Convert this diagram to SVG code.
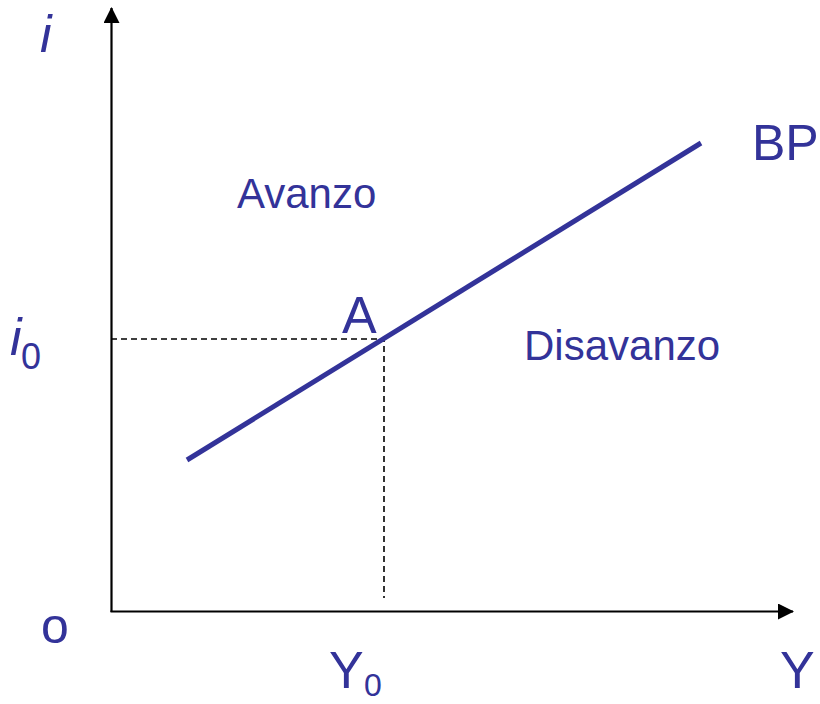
<svg xmlns="http://www.w3.org/2000/svg" width="820" height="704" viewBox="0 0 820 704">
<style>
.t{font-family:"Liberation Sans",Arial,sans-serif;fill:#333399}
.ax{stroke:#000;stroke-width:2.2;fill:none}
.dash{stroke:#000;stroke-width:1.6;stroke-dasharray:6 4;fill:none}
</style>
<defs>
<marker id="arr" markerWidth="16" markerHeight="16" refX="15" refY="8" orient="auto" markerUnits="userSpaceOnUse">
<path d="M0,0 L16,8 L0,16 Z" fill="#000"/>
</marker>
</defs>
<rect width="820" height="704" fill="#fff"/>
<g id="axes">
<line class="ax" x1="111.5" y1="612" x2="111.5" y2="8" marker-end="url(#arr)"/>
<line class="ax" x1="110.5" y1="611.5" x2="793" y2="611.5" marker-end="url(#arr)"/>
</g>
<g id="guides">
<polyline class="dash" points="111,339 384,339 384,598"/>
</g>
<g id="bp">
<line x1="187" y1="460" x2="701" y2="143" stroke="#333399" stroke-width="5"/>
</g>
<g id="labels">
<text class="t" x="40" y="52" font-size="52" font-style="italic">i</text>
<text class="t" x="752" y="160" font-size="50">BP</text>
<text class="t" x="237" y="208" font-size="42">Avanzo</text>
<text class="t" x="524" y="360" font-size="42">Disavanzo</text>
<text class="t" x="342" y="333" font-size="52">A</text>
<text class="t" x="10" y="355" font-size="52" font-style="italic">i</text>
<text class="t" x="21" y="369" font-size="36">0</text>
<text class="t" x="41" y="643" font-size="50">o</text>
<text class="t" x="329" y="688" font-size="52">Y</text>
<text class="t" x="364" y="696" font-size="32">0</text>
<text class="t" x="780" y="688" font-size="52">Y</text>
</g>
</svg>
